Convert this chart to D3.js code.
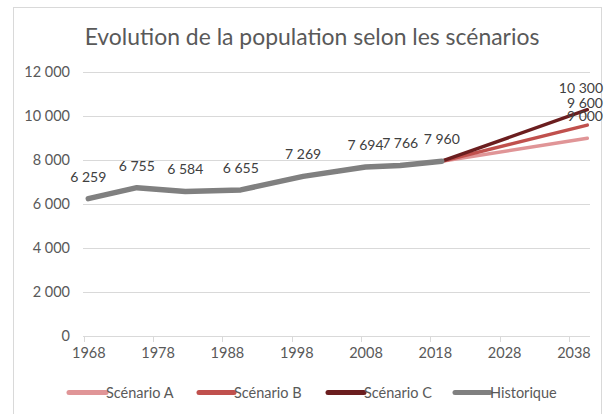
<!DOCTYPE html>
<html><head><meta charset="utf-8">
<script src="https://cdn.jsdelivr.net/npm/d3@7"></script>
<style>
html,body{margin:0;padding:0;background:#fff;}
text{font-family:Lato,"Open Sans",sans-serif;}
</style></head>
<body>
<svg id="c" width="610" height="414"></svg>
<script>
const title = "Evolution de la population selon les scénarios";
const histYears = [1968, 1975, 1982, 1990, 1999, 2008, 2013, 2019];
const histValues = [6259, 6755, 6584, 6655, 7269, 7694, 7766, 7960];
const scenarioYears = [2019, 2040];
const scenarioA = [7960, 9000];
const scenarioB = [7960, 9600];
const scenarioC = [7960, 10300];
const seriesNames = ["Scénario A", "Scénario B", "Scénario C", "Historique"];
const xTicks = [1968, 1978, 1988, 1998, 2008, 2018, 2028, 2038];
const yTicks = [0, 2000, 4000, 6000, 8000, 10000, 12000];

const colors = {"Scénario A":"#e09597","Scénario B":"#c0504d","Scénario C":"#6b1e1f","Historique":"#808080"};
const fmt = v => d3.format(",")(v).replace(/,/g, " ");

const svg = d3.select("#c");
svg.append("rect").attr("x",13.5).attr("y",7.5).attr("width",588).attr("height",420)
  .attr("fill","#fff").attr("stroke","#d9d9d9").attr("stroke-width",1);

const x = d3.scaleLinear().domain([1968, 2040]).range([88.3, 587.3]);
const y = d3.scaleLinear().domain([0, 12000]).range([336.3, 72.3]);
const plotL = 83, plotR = 590;

// title
const t = svg.append("text").attr("x", 312).attr("y", 45).attr("text-anchor","middle")
  .attr("fill","#595959").attr("font-size",21).text(title);
const tw = t.node().getComputedTextLength();
t.attr("font-size", 21*455/tw);

// gridlines
svg.append("g").selectAll("line").data(yTicks.filter(d=>d>0)).join("line")
  .attr("x1",plotL).attr("x2",plotR).attr("y1",d=>Math.round(y(d))+0.5).attr("y2",d=>Math.round(y(d))+0.5)
  .attr("stroke","#d9d9d9").attr("stroke-width",1);

// y axis labels
const yAxis = d3.axisLeft(y).tickValues(yTicks).tickSize(0).tickPadding(0).tickFormat(fmt);
const ya = svg.append("g").attr("transform",`translate(70,0)`).call(yAxis);
ya.select(".domain").remove();
ya.selectAll("text").attr("fill","#595959").attr("font-size",14.5).attr("font-family","Lato");

// x axis
const xAxis = d3.axisBottom(x).tickValues(xTicks).tickSize(0).tickPadding(0).tickFormat(d3.format("d"));
const xa = svg.append("g").attr("transform",`translate(0,${Math.round(y(0))+0.5})`).call(xAxis);
xa.select(".domain").remove();
xa.selectAll("text").attr("fill","#595959").attr("font-size",14.5).attr("font-family","Lato").attr("dy","1.45em");
svg.append("line").attr("x1",plotL).attr("x2",plotR).attr("y1",Math.round(y(0))+0.5).attr("y2",Math.round(y(0))+0.5)
  .attr("stroke","#d9d9d9").attr("stroke-width",1);
svg.append("g").selectAll("line").data(xTicks).join("line")
  .attr("x1",d=>Math.round(x(d)-4.5)+0.5).attr("x2",d=>Math.round(x(d)-4.5)+0.5)
  .attr("y1",Math.round(y(0))).attr("y2",Math.round(y(0))+6)
  .attr("stroke","#d9d9d9").attr("stroke-width",1);

// lines
const line = d3.line().x(d=>x(d[0])).y(d=>y(d[1]));
const scen = [
  {name:"Scénario A", vals:scenarioA},
  {name:"Scénario B", vals:scenarioB},
  {name:"Scénario C", vals:scenarioC}
];
scen.forEach(s=>{
  svg.append("path").datum(scenarioYears.map((yr,i)=>[yr,s.vals[i]]))
    .attr("d",line).attr("fill","none").attr("stroke",colors[s.name])
    .attr("stroke-width",3.5).attr("stroke-linecap","round").attr("stroke-linejoin","round");
});
svg.append("path").datum(histYears.map((yr,i)=>[yr,histValues[i]]))
  .attr("d",line).attr("fill","none").attr("stroke",colors["Historique"])
  .attr("stroke-width",5.5).attr("stroke-linecap","round").attr("stroke-linejoin","round");

// data labels
const lab = svg.append("g").attr("fill","#404040").attr("font-size",14).attr("font-family","Lato");
histYears.forEach((yr,i)=>{
  lab.append("text").attr("x",x(yr)).attr("y",y(histValues[i])-17).attr("text-anchor","middle").text(fmt(histValues[i]));
});
scen.forEach(s=>{
  const v = s.vals[s.vals.length-1];
  lab.append("text").attr("x",603).attr("y",y(v)-17).attr("text-anchor","end").text(fmt(v));
});

// legend
const legItems = [
  {name:"Scénario A", lx:67, tx:106},
  {name:"Scénario B", lx:197, tx:234},
  {name:"Scénario C", lx:326, tx:364},
  {name:"Historique", lx:453, tx:490}
];
const leg = svg.append("g");
legItems.forEach(d=>{
  leg.append("line").attr("x1",d.lx+2).attr("x2",d.tx).attr("y1",392.5).attr("y2",392.5)
    .attr("stroke",colors[d.name]).attr("stroke-width",5).attr("stroke-linecap","round");
  leg.append("text").attr("x",d.tx).attr("y",397.5).attr("fill","#595959").attr("font-size",14.5)
    .attr("font-family","Lato").text(d.name);
});
</script>
</body></html>
